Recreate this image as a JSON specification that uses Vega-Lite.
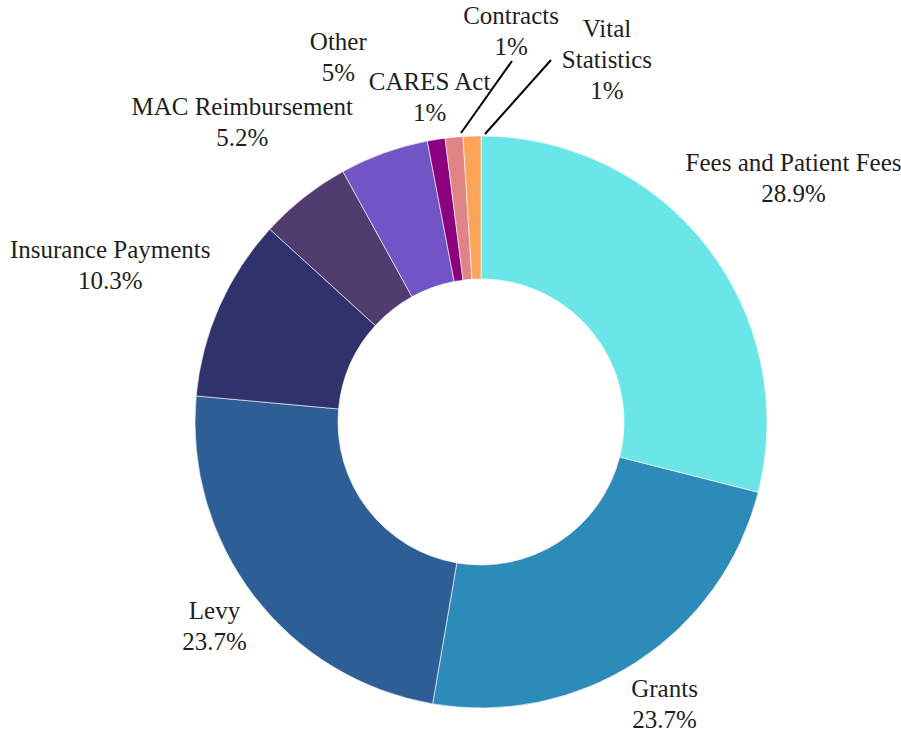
{
  "$schema": "https://vega.github.io/schema/vega-lite/v6.json",
  "width": 840,
  "height": 624,
  "autosize": {"type": "none"},
  "padding": {"left": 61, "top": 110, "right": 0, "bottom": 0},
  "background": "#ffffff",
  "config": {"view": {"stroke": null}},
  "data": {
    "values": [
      {"category": "Fees and Patient Fees", "value": 28.9, "label": "Fees and Patient Fees\n28.9%"},
      {"category": "Grants", "value": 23.7, "label": "Grants\n23.7%"},
      {"category": "Levy", "value": 23.7, "label": "Levy\n23.7%"},
      {"category": "Insurance Payments", "value": 10.3, "label": "Insurance Payments\n10.3%"},
      {"category": "MAC Reimbursement", "value": 5.2, "label": "MAC Reimbursement\n5.2%"},
      {"category": "Other", "value": 5, "label": "Other\n5%"},
      {"category": "CARES Act", "value": 1, "label": "CARES Act\n1%"},
      {"category": "Contracts", "value": 1, "label": "Contracts\n1%"},
      {"category": "Vital Statistics", "value": 1, "label": "Vital\nStatistics\n1%"}
    ]
  },
  "layer": [
    {
      "mark": {"type": "arc", "outerRadius": 286, "innerRadius": 143, "stroke": "#ffffff", "strokeWidth": 0.6},
      "encoding": {
        "theta": {"field": "value", "type": "quantitative", "stack": true},
        "order": {"field": "value", "type": "quantitative", "sort": "descending"},
        "color": {
          "field": "category",
          "type": "nominal",
          "legend": null,
          "scale": {
            "domain": ["Fees and Patient Fees", "Grants", "Levy", "Insurance Payments", "MAC Reimbursement", "Other", "CARES Act", "Contracts", "Vital Statistics"],
            "range": ["#6ae5e8", "#2d8bba", "#2e5e96", "#30336b", "#513c70", "#7154c6", "#8a007e", "#e08585", "#fca55a"]
          }
        }
      }
    },
    {
      "mark": {
        "type": "text",
        "font": "Liberation Serif",
        "fontSize": 25,
        "lineHeight": 31,
        "lineBreak": "\n",
        "color": "#1e1e1e",
        "align": "center",
        "baseline": "middle",
        "radius": {"expr": "datum.category === 'Fees and Patient Fees' ? 396 : datum.category === 'Grants' ? 337 : datum.category === 'Levy' ? 336 : datum.category === 'Insurance Payments' ? 402 : datum.category === 'MAC Reimbursement' ? 381 : datum.category === 'Other' ? 391 : datum.category === 'CARES Act' ? 328 : datum.category === 'Contracts' ? 392 : 383"},
        "dx": {"expr": "datum.category === 'Contracts' ? 67 : datum.category === 'Vital Statistics' ? 138 : datum.category === 'Other' ? -10 : datum.category === 'Insurance Payments' ? -3 : datum.category === 'MAC Reimbursement' ? -3 : 0"},
        "dy": {"expr": "datum.category === 'Vital Statistics' ? -10 : datum.category === 'Insurance Payments' ? -10 : datum.category === 'Other' ? -12 : -16"}
      },
      "encoding": {
        "theta": {"field": "value", "type": "quantitative", "stack": true},
        "order": {"field": "value", "type": "quantitative", "sort": "descending"},
        "text": {"field": "label", "type": "nominal"}
      }
    },
    {
      "transform": [{"filter": {"field": "category", "equal": "Contracts"}}],
      "mark": {"type": "rule", "color": "#000000", "strokeWidth": 2},
      "encoding": {
        "x": {"value": {"expr": "width/2 - 20"}},
        "y": {"value": {"expr": "height/2 - 289"}},
        "x2": {"value": {"expr": "width/2 + 31"}},
        "y2": {"value": {"expr": "height/2 - 361"}}
      }
    },
    {
      "transform": [{"filter": {"field": "category", "equal": "Vital Statistics"}}],
      "mark": {"type": "rule", "color": "#000000", "strokeWidth": 2},
      "encoding": {
        "x": {"value": {"expr": "width/2 + 4"}},
        "y": {"value": {"expr": "height/2 - 288"}},
        "x2": {"value": {"expr": "width/2 + 70"}},
        "y2": {"value": {"expr": "height/2 - 362"}}
      }
    }
  ]
}
